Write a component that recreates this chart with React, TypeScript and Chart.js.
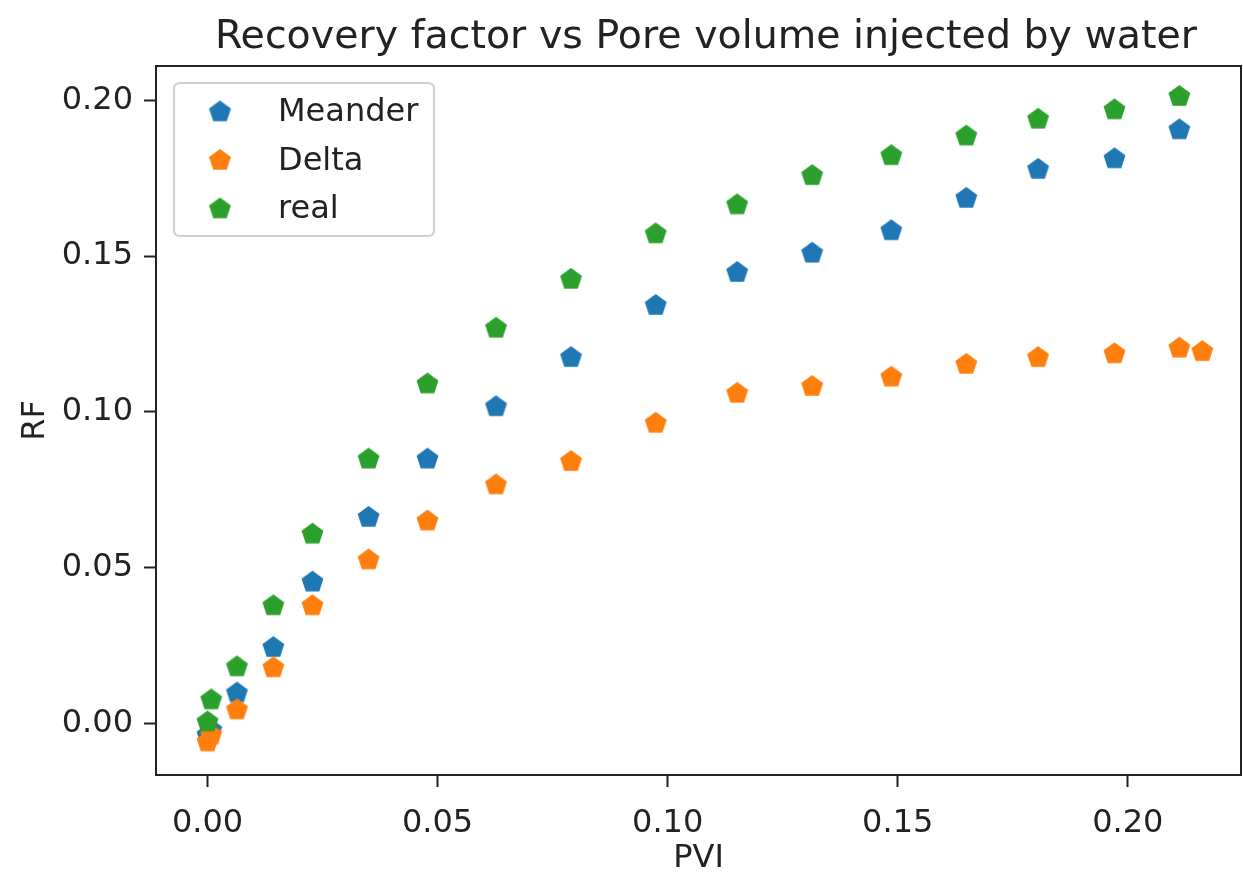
import React, { useEffect, useRef } from "react";
import { Chart, registerables } from "chart.js";

Chart.register(...registerables);

const chartTitle = "Recovery factor vs Pore volume injected by water";
const xAxisTitle = "PVI";
const yAxisTitle = "RF";
const seriesLabels = ["Meander", "Delta", "real"];
const seriesColors = ["#1f77b4", "#ff7f0e", "#2ca02c"];

const pviMeander = [0.0, 0.0008, 0.0064, 0.0143, 0.0228, 0.035, 0.0478, 0.0627, 0.079, 0.0974, 0.1151, 0.1314, 0.1486, 0.1649, 0.1805, 0.1971, 0.2112];
const rfMeander = [-0.0038, -0.0022, 0.0097, 0.0243, 0.0453, 0.0661, 0.0848, 0.1016, 0.1174, 0.1341, 0.1447, 0.1509, 0.1581, 0.1685, 0.1778, 0.1812, 0.1905];

const pviDelta = [0.0, 0.0008, 0.0064, 0.0143, 0.0228, 0.035, 0.0478, 0.0627, 0.079, 0.0974, 0.1151, 0.1314, 0.1486, 0.1649, 0.1805, 0.1971, 0.2112, 0.2162];
const rfDelta = [-0.006, -0.0038, 0.0043, 0.0178, 0.0377, 0.0524, 0.0649, 0.0765, 0.084, 0.0963, 0.1059, 0.1081, 0.1111, 0.1152, 0.1174, 0.1186, 0.1204, 0.1193];

const pviReal = [0.0, 0.0008, 0.0064, 0.0143, 0.0228, 0.035, 0.0478, 0.0627, 0.079, 0.0974, 0.1151, 0.1314, 0.1486, 0.1649, 0.1805, 0.1971, 0.2112];
const rfReal = [0.0004, 0.0075, 0.0181, 0.0377, 0.0607, 0.0848, 0.1089, 0.1268, 0.1425, 0.1571, 0.1664, 0.1758, 0.1822, 0.1885, 0.1939, 0.1969, 0.2012];

const xTicks = [0.0, 0.05, 0.1, 0.15, 0.2];
const yTicks = [0.0, 0.05, 0.1, 0.15, 0.2];

const FONT = "'DejaVu Sans', sans-serif";
const TEXT = "#222222";

function makePentagon(color: string, r: number): HTMLCanvasElement {
  const size = Math.ceil(r * 2 + 4);
  const c = document.createElement("canvas");
  c.width = size;
  c.height = size;
  const ctx = c.getContext("2d")!;
  const cx = size / 2;
  const cy = size / 2;
  ctx.beginPath();
  for (let i = 0; i < 5; i++) {
    const a = -Math.PI / 2 + (i * 2 * Math.PI) / 5;
    const px = cx + r * Math.cos(a);
    const py = cy + r * Math.sin(a);
    if (i === 0) ctx.moveTo(px, py);
    else ctx.lineTo(px, py);
  }
  ctx.closePath();
  ctx.fillStyle = color;
  ctx.fill();
  return c;
}

export default function App() {
  const ref = useRef<HTMLCanvasElement | null>(null);

  useEffect(() => {
    if (!ref.current) return;
    const markers = seriesColors.map((c) => makePentagon(c, 11.5));
    const xs = [pviMeander, pviDelta, pviReal];
    const ys = [rfMeander, rfDelta, rfReal];

    const datasets = seriesLabels.map((label, i) => ({
      label,
      data: xs[i].map((x, j) => ({ x, y: ys[i][j] })),
      pointStyle: markers[i] as any,
      pointRadius: 11,
      borderWidth: 0,
      backgroundColor: seriesColors[i],
      borderColor: seriesColors[i],
      showLine: false,
      order: 2 - i,
    }));

    const titleShiftPlugin = {
      id: "titleShift",
      afterLayout(chart: any) {
        const tb = chart.titleBlock;
        if (tb) {
          tb.left = 171;
          tb.right = 1241;
        }
      },
    };

    const framePlugin = {
      id: "frame",
      afterDatasetsDraw(chart: any) {
        const { ctx, chartArea: a } = chart;
        ctx.save();
        ctx.strokeStyle = TEXT;
        ctx.lineWidth = 2;
        ctx.strokeRect(a.left, a.top, a.right - a.left, a.bottom - a.top);
        ctx.restore();
      },
    };

    const legendPlugin = {
      id: "mplLegend",
      afterDraw(chart: any) {
        const { ctx, chartArea: a } = chart;
        const bx = a.left + 18;
        const by = a.top + 17;
        const bw = 260;
        const bh = 153;
        const r = 6;
        ctx.save();
        ctx.beginPath();
        ctx.moveTo(bx + r, by);
        ctx.lineTo(bx + bw - r, by);
        ctx.quadraticCurveTo(bx + bw, by, bx + bw, by + r);
        ctx.lineTo(bx + bw, by + bh - r);
        ctx.quadraticCurveTo(bx + bw, by + bh, bx + bw - r, by + bh);
        ctx.lineTo(bx + r, by + bh);
        ctx.quadraticCurveTo(bx, by + bh, bx, by + bh - r);
        ctx.lineTo(bx, by + r);
        ctx.quadraticCurveTo(bx, by, bx + r, by);
        ctx.closePath();
        ctx.fillStyle = "rgba(255,255,255,0.8)";
        ctx.fill();
        ctx.strokeStyle = "#d0d0d0";
        ctx.lineWidth = 2;
        ctx.stroke();
        ctx.font = `32px ${FONT}`;
        ctx.fillStyle = TEXT;
        ctx.textBaseline = "middle";
        ctx.textAlign = "left";
        chart.data.datasets.forEach((ds: any, i: number) => {
          const rowY = by + 29 + i * 48.5;
          const img = ds.pointStyle as HTMLCanvasElement;
          ctx.drawImage(img, bx + 46 - img.width / 2, rowY - img.height / 2);
          ctx.fillText(ds.label, bx + 104, rowY + 1);
        });
        ctx.restore();
      },
    };

    const tickFont = { family: FONT, size: 32 };

    const chart = new Chart(ref.current, {
      type: "scatter",
      data: { datasets: datasets as any },
      options: {
        animation: false,
        responsive: false,
        events: [],
        layout: { autoPadding: false, padding: { left: 0, right: 2, top: 0, bottom: 0 } },
        plugins: {
          legend: { display: false },
          tooltip: { enabled: false },
          title: {
            display: true,
            text: chartTitle,
            color: TEXT,
            font: { family: FONT, size: 39.5, weight: "normal" as any, lineHeight: 1.2 },
            padding: { top: 14, bottom: 4.6 },
          },
        },
        scales: {
          x: {
            type: "linear",
            min: -0.0112,
            max: 0.2246,
            afterBuildTicks: (s: any) => {
              s.ticks = xTicks.map((v) => ({ value: v }));
            },
            afterFit: (s: any) => {
              s.height = 99;
              s.paddingLeft = 0;
              s.paddingRight = 0;
            },
            ticks: {
              color: TEXT,
              font: tickFont,
              padding: 17,
              maxRotation: 0,
              callback: (v: any) => Number(v).toFixed(2),
            },
            grid: {
              display: true,
              drawOnChartArea: false,
              drawTicks: true,
              tickLength: 12,
              tickColor: TEXT,
              tickWidth: 2,
            },
            border: { display: false },
            title: {
              display: true,
              text: xAxisTitle,
              color: TEXT,
              font: { family: FONT, size: 32, lineHeight: 1 },
              padding: { top: 0, bottom: -1 },
            },
          },
          y: {
            type: "linear",
            min: -0.0166,
            max: 0.211,
            afterBuildTicks: (s: any) => {
              s.ticks = yTicks.map((v) => ({ value: v }));
            },
            afterFit: (s: any) => {
              s.width = 156;
              s.paddingTop = 0;
              s.paddingBottom = 0;
            },
            ticks: {
              color: TEXT,
              font: tickFont,
              padding: 11,
              callback: (v: any) => Number(v).toFixed(2),
            },
            grid: {
              display: true,
              drawOnChartArea: false,
              drawTicks: true,
              tickLength: 12,
              tickColor: TEXT,
              tickWidth: 2,
            },
            border: { display: false },
            title: {
              display: true,
              text: yAxisTitle,
              color: TEXT,
              font: { family: FONT, size: 32, lineHeight: 1 },
              padding: { top: 20, bottom: 0 },
            },
          },
        },
      },
      plugins: [titleShiftPlugin, framePlugin, legendPlugin],
    });

    return () => chart.destroy();
  }, []);

  return (
    <div style={{ position: "fixed", left: 0, top: 0, width: 1243, height: 874, background: "#fff" }}>
      <canvas ref={ref} width={1243} height={874} />
    </div>
  );
}
